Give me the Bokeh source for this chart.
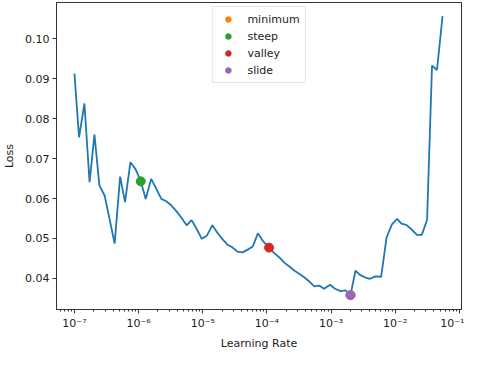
from bokeh.plotting import figure
from bokeh.models import FixedTicker, PrintfTickFormatter, CustomJSTickFormatter, Range1d
from bokeh.embed import file_html
from bokeh.resources import INLINE

# learning-rate finder curve
lrs = [1.00e-7, 1.18e-7, 1.43e-7, 1.72e-7, 2.05e-7, 2.45e-7, 2.96e-7, 3.54e-7, 4.23e-7, 5.15e-7,
       6.15e-7, 7.45e-7, 9.00e-7, 1.08e-6, 1.29e-6, 1.57e-6, 1.89e-6, 2.26e-6, 2.70e-6, 3.22e-6,
       3.85e-6, 4.59e-6, 5.61e-6, 6.70e-6, 8.09e-6, 9.66e-6, 1.16e-5, 1.41e-5, 1.68e-5, 2.01e-5,
       2.40e-5, 2.88e-5, 3.47e-5, 4.17e-5, 5.01e-5, 6.03e-5, 7.24e-5, 8.71e-5, 1.08e-4, 1.29e-4,
       1.55e-4, 1.85e-4, 2.26e-4, 2.70e-4, 3.22e-4, 3.85e-4, 4.59e-4, 5.47e-4, 6.53e-4, 7.80e-4,
       9.66e-4, 1.15e-3, 1.41e-3, 1.68e-3, 2.01e-3, 2.40e-3, 2.86e-3, 3.42e-3, 4.08e-3, 4.88e-3,
       6.03e-3, 7.35e-3, 8.89e-3, 1.07e-2, 1.25e-2, 1.49e-2, 1.78e-2, 2.18e-2, 2.60e-2, 3.14e-2,
       3.75e-2, 4.48e-2, 5.47e-2]
losses = [0.0913, 0.0753, 0.0838, 0.0641, 0.0760, 0.0633, 0.0607, 0.0547, 0.0487, 0.0655,
          0.0591, 0.0691, 0.0673, 0.0643, 0.0599, 0.0649, 0.0624, 0.0599, 0.0593, 0.0583,
          0.0569, 0.0553, 0.0533, 0.0546, 0.0523, 0.0499, 0.0507, 0.0533, 0.0515, 0.0499,
          0.0485, 0.0478, 0.0467, 0.0465, 0.0472, 0.0480, 0.0513, 0.0493, 0.0477, 0.0464,
          0.0453, 0.0440, 0.0429, 0.0419, 0.0411, 0.0402, 0.0392, 0.0380, 0.0382, 0.0374,
          0.0384, 0.0374, 0.0368, 0.0370, 0.0358, 0.0419, 0.0408, 0.0402, 0.0399, 0.0405,
          0.0404, 0.0503, 0.0535, 0.0549, 0.0537, 0.0534, 0.0523, 0.0509, 0.0509, 0.0547,
          0.0933, 0.0922, 0.1057]

# suggestion markers
marker_names = ["minimum", "steep", "valley", "slide"]
marker_lrs = [2.01e-3, 1.08e-6, 1.08e-4, 2.01e-3]
marker_losses = [0.0358, 0.0643, 0.0477, 0.0358]
marker_colors = ["#ff7f0e", "#2ca02c", "#d62728", "#9467bd"]

y_ticks = [0.04, 0.05, 0.06, 0.07, 0.08, 0.09, 0.10]
x_ticks = [1e-7, 1e-6, 1e-5, 1e-4, 1e-3, 1e-2, 1e-1]

TXT = "#222222"
FONT = "DejaVu Sans"

p = figure(width=464, height=352, x_axis_type="log",
           x_range=Range1d(5.25e-8, 0.108), y_range=Range1d(0.0322, 0.1091),
           output_backend="svg", toolbar_location=None,
           min_border_left=51, min_border_right=3, min_border_top=2, min_border_bottom=41)

p.line(lrs, losses, line_color="#1f77b4", line_width=1.8)
for name, lx, ly, c in zip(marker_names, marker_lrs, marker_losses, marker_colors):
    p.scatter([lx], [ly], size=9, fill_color=c, line_color=c, legend_label=name)

p.xgrid.visible = False
p.ygrid.visible = False
p.outline_line_color = "#333333"
p.outline_line_width = 1

minor = [k * 10.0 ** e for e in range(-8, 0) for k in range(2, 10)]
p.xaxis.ticker = FixedTicker(ticks=x_ticks, minor_ticks=minor)
p.xaxis.formatter = CustomJSTickFormatter(code="""
const e = Math.round(Math.log10(tick));
const sup = {'-':'\u207b','0':'\u2070','1':'\u00b9','2':'\u00b2','3':'\u00b3','4':'\u2074','5':'\u2075','6':'\u2076','7':'\u2077','8':'\u2078','9':'\u2079'};
return '10' + String(e).split('').map(c => sup[c]).join('');
""")
p.yaxis.ticker = FixedTicker(ticks=y_ticks)
p.yaxis.formatter = PrintfTickFormatter(format="%.2f")

p.xaxis.axis_label = "Learning Rate"
p.yaxis.axis_label = "Loss"
for ax in [p.xaxis[0], p.yaxis[0]]:
    ax.axis_line_color = "#333333"
    ax.major_tick_line_color = "#333333"
    ax.minor_tick_line_color = "#333333"
    ax.major_tick_out = 4
    ax.major_tick_in = 0
    ax.minor_tick_out = 2
    ax.minor_tick_in = 0
    ax.major_label_text_font = FONT
    ax.major_label_text_font_size = "11px"
    ax.major_label_text_color = TXT
    ax.axis_label_text_font = FONT
    ax.axis_label_text_font_size = "11px"
    ax.axis_label_text_font_style = "normal"
    ax.axis_label_text_color = TXT
    ax.major_label_standoff = 3
p.yaxis.minor_tick_line_color = None
p.xaxis.axis_label_standoff = 4
p.yaxis.axis_label_standoff = 6

lg = p.legend[0]
lg.location = "top_center"
lg.margin = 4
lg.padding = 5
lg.spacing = 3
lg.glyph_width = 20
lg.glyph_height = 14
lg.label_height = 14
lg.label_standoff = 10
lg.label_text_font = FONT
lg.label_text_font_size = "11px"
lg.label_text_color = TXT
lg.border_line_color = "#cccccc"
lg.background_fill_alpha = 0.8

open("out.html", "w").write(file_html(p, INLINE))
